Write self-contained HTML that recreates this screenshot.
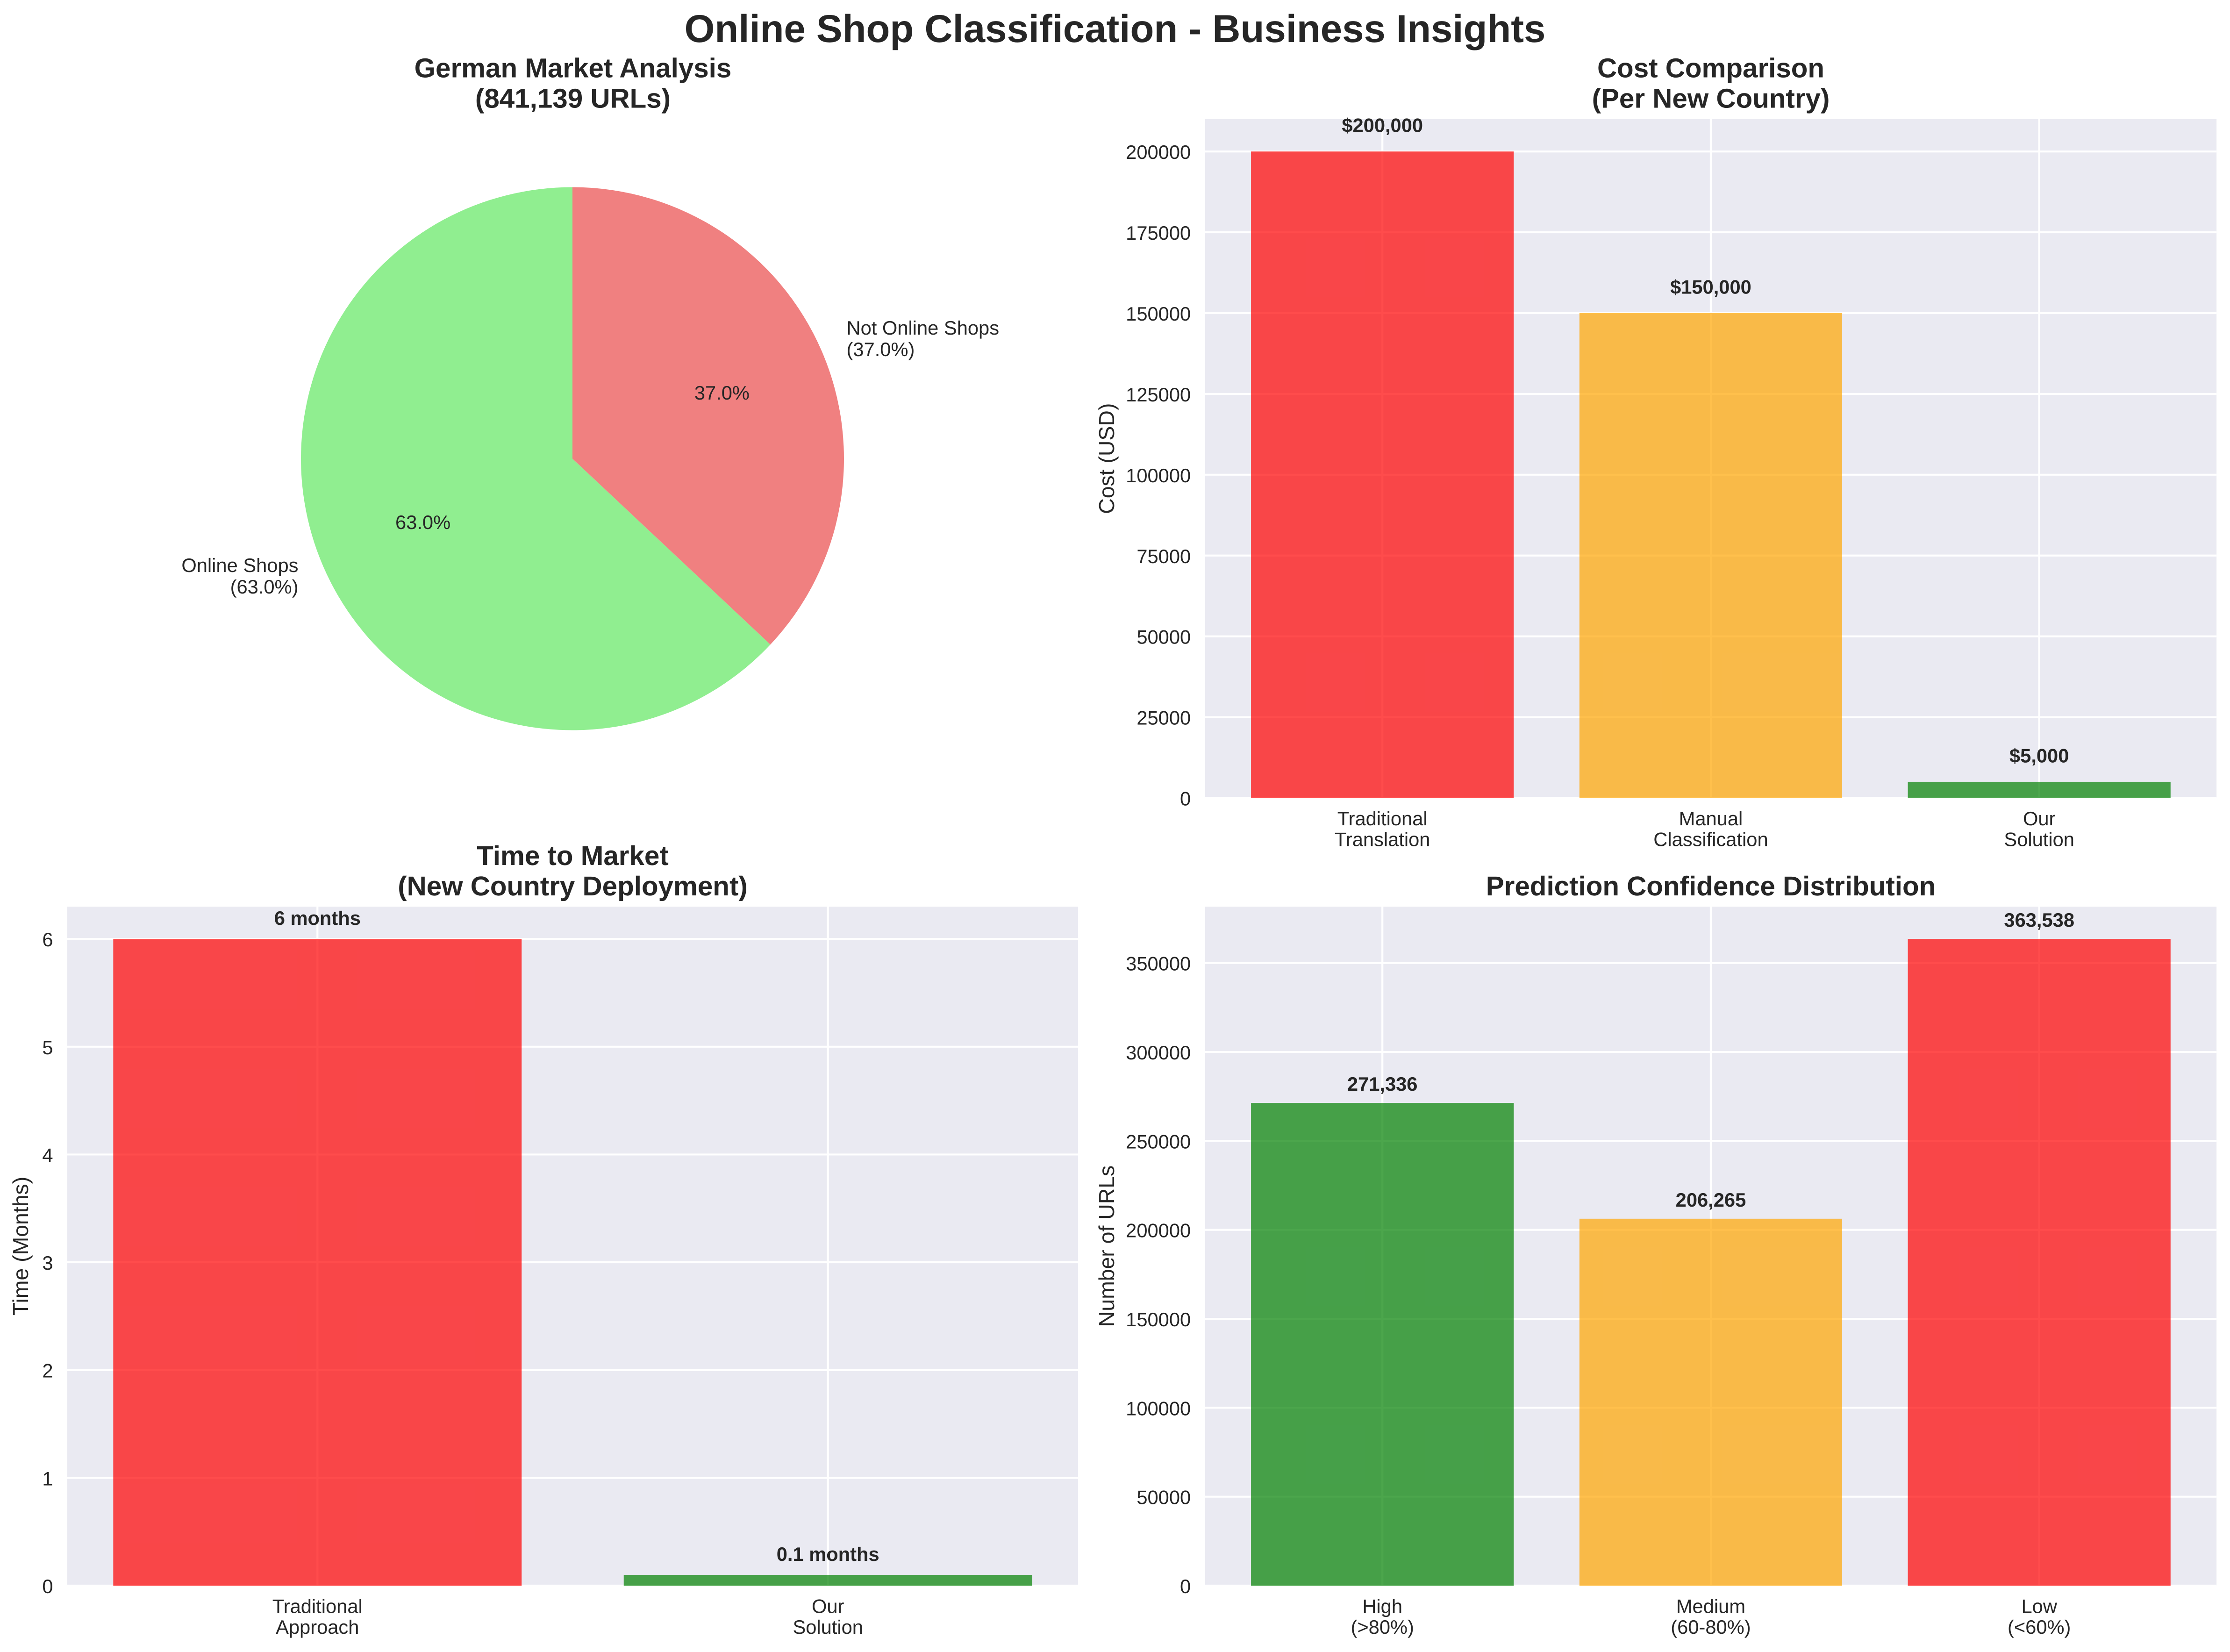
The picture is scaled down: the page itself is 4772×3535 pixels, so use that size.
<!DOCTYPE html>
<html lang="en">
<head>
<meta charset="utf-8">
<title>Online Shop Classification - Business Insights</title>
<style>
  html, body { margin: 0; padding: 0; background: #ffffff; width: 4772px; height: 3535px; overflow: hidden; }
  svg { display: block; }
  text { font-family: "Liberation Sans", Arial, sans-serif; fill: #262626; text-rendering: geometricPrecision; }
  .suptitle { font-size: 83.33px; font-weight: 700; text-anchor: middle; }
  .title { font-size: 58.33px; font-weight: 700; text-anchor: middle; }
  .tick { font-size: 41.67px; }
  .value { font-size: 41.67px; font-weight: 700; text-anchor: middle; }
  .ylabel { font-size: 46.4px; text-anchor: middle; }
</style>
</head>
<body>
<svg id="figure" xmlns="http://www.w3.org/2000/svg" width="4772" height="3535" viewBox="0 0 4772 3535">
  <rect x="0" y="0" width="4772" height="3535" fill="#ffffff"/>
  <text class="suptitle" x="2386" y="90">Online Shop Classification - Business Insights</text>

  <text class="title" x="1226" y="165.7">German Market Analysis</text>
  <text class="title" x="1226" y="230.7">(841,139 URLs)</text>

  <text class="title" x="3661" y="165.7">Cost Comparison</text>
  <text class="title" x="3661" y="230.7">(Per New Country)</text>

  <text class="title" x="1225.5" y="1851">Time to Market</text>
  <text class="title" x="1225.5" y="1916">(New Country Deployment)</text>

  <text class="title" x="3661" y="1916">Prediction Confidence Distribution</text>

  <g id="pie-chart"></g>
  <g id="cost-chart"></g>
  <g id="time-chart"></g>
  <g id="confidence-chart"></g>
</svg>

<script>
/* ---------- chart data ---------- */
const pieCategories = ['Online Shops', 'Not Online Shops'];
const pieValues = [63.0, 37.0];
const pieColors = ['#90EE90', '#F08080'];

const costCategories = ['Traditional\nTranslation', 'Manual\nClassification', 'Our\nSolution'];
const costValues = [200000, 150000, 5000];
const costColors = ['red', 'orange', 'green'];
const costTicks = [0, 25000, 50000, 75000, 100000, 125000, 150000, 175000, 200000];

const timeCategories = ['Traditional\nApproach', 'Our\nSolution'];
const timeValues = [6, 0.1];
const timeColors = ['red', 'green'];
const timeTicks = [0, 1, 2, 3, 4, 5, 6];

const confidenceCategories = ['High\n(>80%)', 'Medium\n(60-80%)', 'Low\n(<60%)'];
const confidenceValues = [271336, 206265, 363538];
const confidenceColors = ['green', 'orange', 'red'];
const confidenceTicks = [0, 50000, 100000, 150000, 200000, 250000, 300000, 350000];

/* ---------- helpers ---------- */
const SVG_NS = 'http://www.w3.org/2000/svg';

function make(parent, tag, attrs) {
  const node = document.createElementNS(SVG_NS, tag);
  for (const key in attrs) node.setAttribute(key, attrs[key]);
  parent.appendChild(node);
  return node;
}

function addLines(textNode, label, x, lineHeight) {
  label.split('\n').forEach(function (line, i) {
    const span = make(textNode, 'tspan', { x: x, dy: i === 0 ? 0 : lineHeight });
    span.textContent = line;
  });
}

/* ---------- bar charts ---------- */
function drawBarChart(cfg) {
  const root = document.getElementById(cfg.id);
  const width = cfg.right - cfg.left;
  const xScale = function (v) { return cfg.left + (v - cfg.xMin) / (cfg.xMax - cfg.xMin) * width; };
  const yScale = function (v) { return cfg.bottom - v / cfg.yMax * (cfg.bottom - cfg.top); };

  const bg = make(root, 'rect', { x: cfg.left, y: cfg.top, width: width, height: cfg.bottom - cfg.top, fill: '#EAEAF2' });
  
  

  cfg.ticks.forEach(function (t) {
    const line = make(root, 'line', { x1: cfg.left, x2: cfg.right, y1: yScale(t), y2: yScale(t), stroke: '#ffffff', 'stroke-width': 4.17 });
    
    

    const label = make(root, 'text', { class: 'tick', x: cfg.left - 30.5, y: yScale(t) + 16, 'text-anchor': 'end' });
    
    
    label.textContent = String(t);
  });

  cfg.categories.forEach(function (c, i) {
    const line = make(root, 'line', { x1: xScale(i), x2: xScale(i), y1: cfg.top, y2: cfg.bottom, stroke: '#ffffff', 'stroke-width': 4.17 });
    
    
  });

  cfg.categories.forEach(function (c, i) {
    const v = cfg.values[i];
    const bar = make(root, 'rect', {
      x: xScale(i - 0.4),
      y: yScale(v),
      width: xScale(i + 0.4) - xScale(i - 0.4),
      height: cfg.bottom - yScale(v),
      fill: cfg.colors[i],
      'fill-opacity': 0.7
    });
    
    

    const value = make(root, 'text', { class: 'value', x: xScale(i), y: yScale(v) - cfg.valuePad });
    
    
    value.textContent = cfg.format(v);

    const tick = make(root, 'text', { class: 'tick', x: xScale(i), y: cfg.bottom + 58.5, 'text-anchor': 'middle' });
    
    
    addLines(tick, c, xScale(i), 44.7);
  });

  if (cfg.yLabel) {
    const mid = (cfg.top + cfg.bottom) / 2;
    const yl = make(root, 'text', { class: 'ylabel', transform: 'translate(' + cfg.yLabelX + ' ' + mid + ') rotate(-90)', x: 0, y: 0 });
    
    
    yl.textContent = cfg.yLabel;
  }
}

drawBarChart({
  id: 'cost-chart', prefix: 'cost',
  left: 2578.7, right: 4743.2, top: 255, bottom: 1707.5,
  xMin: -0.54, xMax: 2.54, yMax: 210000,
  categories: costCategories, values: costValues, colors: costColors, ticks: costTicks,
  valuePad: 41.5, yLabel: 'Cost (USD)', yLabelX: 2384,
  format: function (v) { return '$' + v.toLocaleString('en-US'); }
});

drawBarChart({
  id: 'time-chart', prefix: 'time',
  left: 144, right: 2307, top: 1940, bottom: 3393,
  xMin: -0.49, xMax: 1.49, yMax: 6.3,
  categories: timeCategories, values: timeValues, colors: timeColors, ticks: timeTicks,
  valuePad: 30, yLabel: 'Time (Months)', yLabelX: 60,
  format: function (v) { return v + ' months'; }
});

drawBarChart({
  id: 'confidence-chart', prefix: 'confidence',
  left: 2578.7, right: 4743.2, top: 1940, bottom: 3393,
  xMin: -0.54, xMax: 2.54, yMax: 381715,
  categories: confidenceCategories, values: confidenceValues, colors: confidenceColors, ticks: confidenceTicks,
  valuePad: 26, yLabel: 'Number of URLs', yLabelX: 2384,
  format: function (v) { return v.toLocaleString('en-US'); }
});

/* ---------- pie chart ---------- */
(function drawPie() {
  const root = document.getElementById('pie-chart');
  const cx = 1225, cy = 981.5, r = 581;
  const total = pieValues.reduce(function (a, b) { return a + b; }, 0);
  let angle = 90;

  pieValues.forEach(function (v, i) {
    const sweep = v / total * 360;
    const a0 = angle * Math.PI / 180;
    const a1 = (angle + sweep) * Math.PI / 180;
    const mid = (angle + sweep / 2) * Math.PI / 180;
    const d = 'M' + cx + ' ' + cy +
      ' L' + (cx + r * Math.cos(a0)) + ' ' + (cy - r * Math.sin(a0)) +
      ' A' + r + ' ' + r + ' 0 ' + (sweep > 180 ? 1 : 0) + ' 0 ' +
      (cx + r * Math.cos(a1)) + ' ' + (cy - r * Math.sin(a1)) + ' Z';

    const slice = make(root, 'path', { d: d, fill: pieColors[i] });
    
    

    const pct = (v / total * 100).toFixed(1) + '%';

    const inner = make(root, 'text', {
      class: 'tick', x: cx + 0.6 * r * Math.cos(mid), y: cy - 0.6 * r * Math.sin(mid) + 12, 'text-anchor': 'middle'
    });
    
    
    inner.textContent = pct;

    const lx = cx + 1.1 * r * Math.cos(mid);
    const outer = make(root, 'text', {
      class: 'tick', x: lx, y: cy - 1.1 * r * Math.sin(mid) - 11.5,
      'text-anchor': Math.cos(mid) < 0 ? 'end' : 'start'
    });
    
    
    addLines(outer, pieCategories[i] + '\n(' + pct + ')', lx, 46);

    angle += sweep;
  });
})();
</script>
</body>
</html>
